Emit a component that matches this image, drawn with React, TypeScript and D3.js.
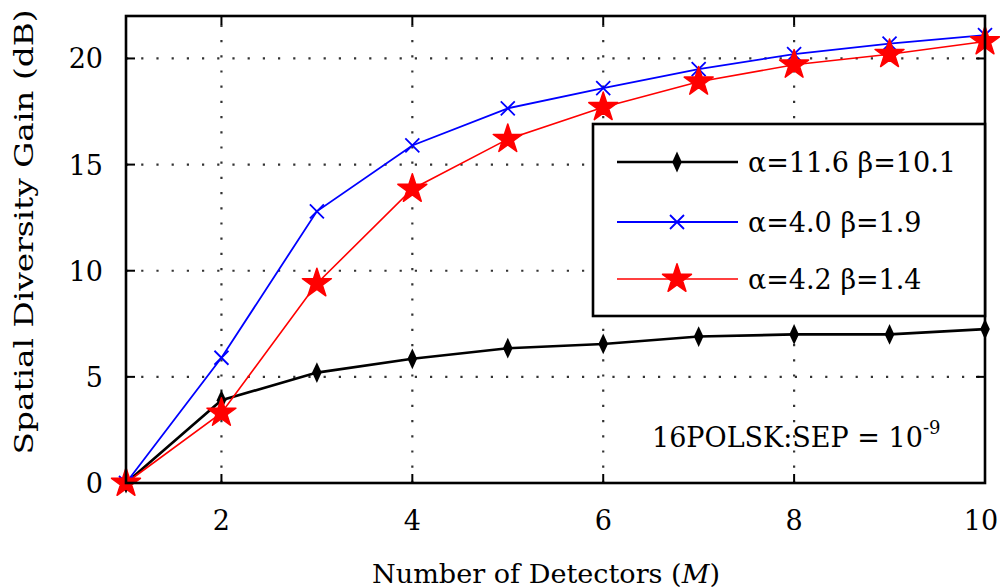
import React, { useEffect, useRef } from 'react';
import * as d3 from 'd3';

// values
const detectors = [1, 2, 3, 4, 5, 6, 7, 8, 9, 10];
const gainA = [0, 3.9, 5.2, 5.85, 6.35, 6.55, 6.9, 7.0, 7.0, 7.25];
const gainB = [0, 5.9, 12.8, 15.9, 17.65, 18.6, 19.5, 20.2, 20.7, 21.1];
const gainC = [0, 3.3, 9.4, 13.85, 16.2, 17.7, 18.9, 19.7, 20.2, 20.8];
const xTicks = [2, 4, 6, 8, 10];
const yTicks = [0, 5, 10, 15, 20];
const legendLabels = ['α=11.6 β=10.1', 'α=4.0 β=1.9', 'α=4.2 β=1.4'];

const W = 1000;
const H = 588;
const margin = { top: 16, right: 15, bottom: 105, left: 126 };
const SERIF = '"DejaVu Serif", "Liberation Serif", serif';

export default function App() {
  const ref = useRef<SVGSVGElement>(null);

  useEffect(() => {
    const svg = d3.select(ref.current);
    svg.selectAll('*').remove();

    const x = d3.scaleLinear().domain([1, 10]).range([margin.left, W - margin.right]);
    const y = d3.scaleLinear().domain([0, 22]).range([H - margin.bottom, margin.top]);
    const [x0, x1] = x.range();
    const [y0, y1] = y.range();

    svg.append('rect').attr('width', W).attr('height', H).attr('fill', '#fff');

    // dotted grid
    const grid = svg.append('g').attr('stroke', '#333').attr('stroke-width', 2.2)
      .attr('stroke-dasharray', '2.2 13').attr('stroke-linecap', 'butt');
    grid.selectAll('.gx').data(xTicks.filter(t => t < 10)).enter().append('line')
      .attr('x1', d => x(d)).attr('x2', d => x(d)).attr('y1', y0).attr('y2', y1);
    grid.selectAll('.gy').data(yTicks.filter(t => t > 0)).enter().append('line')
      .attr('x1', x0).attr('x2', x1).attr('y1', d => y(d)).attr('y2', d => y(d));

    // inward ticks on all sides
    const ticks = svg.append('g').attr('stroke', '#000').attr('stroke-width', 2);
    const tl = 9;
    xTicks.forEach(t => {
      ticks.append('line').attr('x1', x(t)).attr('x2', x(t)).attr('y1', y0).attr('y2', y0 - tl);
      ticks.append('line').attr('x1', x(t)).attr('x2', x(t)).attr('y1', y1).attr('y2', y1 + tl);
    });
    yTicks.forEach(t => {
      ticks.append('line').attr('x1', x0).attr('x2', x0 + tl).attr('y1', y(t)).attr('y2', y(t));
      ticks.append('line').attr('x1', x1).attr('x2', x1 - tl).attr('y1', y(t)).attr('y2', y(t));
    });

    // series
    const series = [
      { values: gainA, color: '#000', width: 2.6, marker: 'diamond' },
      { values: gainB, color: '#0000ff', width: 1.8, marker: 'x' },
      { values: gainC, color: '#ff0000', width: 1.6, marker: 'star' },
    ];
    const line = d3.line<number>().x((_, i) => x(detectors[i])).y(d => y(d));

    const drawMarker = (g: any, kind: string, color: string, cx: number, cy: number) => {
      if (kind === 'diamond') {
        g.append('path').attr('d', d3.symbol(d3.symbolDiamond, 80)())
          .attr('transform', `translate(${cx},${cy}) scale(1,1.25)`).attr('fill', color);
      } else if (kind === 'x') {
        const s = 7;
        g.append('path').attr('d', `M${cx - s},${cy - s}L${cx + s},${cy + s}M${cx - s},${cy + s}L${cx + s},${cy - s}`)
          .attr('stroke', color).attr('stroke-width', 1.8).attr('fill', 'none');
      } else {
        g.append('path').attr('d', d3.symbol(d3.symbolStar, 260)())
          .attr('transform', `translate(${cx},${cy})`).attr('fill', color)
          .attr('stroke', color).attr('stroke-width', 1.5).attr('stroke-linejoin', 'round');
      }
    };

    series.forEach(s => {
      svg.append('path').datum(s.values).attr('d', line).attr('fill', 'none')
        .attr('stroke', s.color).attr('stroke-width', s.width);
    });
    series.forEach(s => {
      const g = svg.append('g');
      s.values.forEach((v, i) => drawMarker(g, s.marker, s.color, x(detectors[i]), y(v)));
    });

    // frame
    svg.append('rect').attr('x', x0).attr('y', y1).attr('width', x1 - x0).attr('height', y0 - y1)
      .attr('fill', 'none').attr('stroke', '#000').attr('stroke-width', 2.6);

    // tick labels (the last one pulled in a little so it stays on the page)
    svg.append('g').selectAll('text').data(xTicks).enter().append('text')
      .attr('x', d => Math.min(x(d), W - 19)).attr('y', y0 + 47).attr('text-anchor', 'middle')
      .attr('font-family', SERIF).attr('font-size', 27).text(d => d);
    svg.append('g').selectAll('text').data(yTicks).enter().append('text')
      .attr('x', x0 - 23).attr('y', d => y(d) + 10).attr('text-anchor', 'end')
      .attr('font-family', SERIF).attr('font-size', 27).text(d => d);

    // axis titles
    svg.append('text').attr('x', 546).attr('y', 583).attr('text-anchor', 'middle')
      .attr('font-family', SERIF).attr('font-size', 26)
      .attr('textLength', 348).attr('lengthAdjust', 'spacingAndGlyphs')
      .html('Number of Detectors (<tspan font-style="italic">M</tspan>)');
    svg.append('text').attr('transform', 'translate(33,232) rotate(-90)').attr('text-anchor', 'middle')
      .attr('font-family', SERIF).attr('font-size', 26)
      .attr('textLength', 445).attr('lengthAdjust', 'spacingAndGlyphs')
      .text('Spatial Diversity Gain (dB)');

    // legend
    const lg = svg.append('g');
    lg.append('rect').attr('x', 593).attr('y', 124).attr('width', x1 - 593).attr('height', 192)
      .attr('fill', '#fff').attr('stroke', '#000').attr('stroke-width', 2.6);
    const rowY = [162, 222, 279];
    series.forEach((s, i) => {
      lg.append('line').attr('x1', 617).attr('x2', 738).attr('y1', rowY[i]).attr('y2', rowY[i])
        .attr('stroke', s.color).attr('stroke-width', s.width);
      drawMarker(lg, s.marker, s.color, 677, rowY[i]);
      lg.append('text').attr('x', 748).attr('y', rowY[i] + 10)
        .attr('font-family', SERIF).attr('font-size', 27).text(legendLabels[i]);
    });

    // annotation
    svg.append('text').attr('x', 652).attr('y', 447).attr('font-family', SERIF).attr('font-size', 27)
      .html('16POLSK:SEP = 10<tspan font-size="18" dy="-13">-9</tspan>');
  }, []);

  return (
    <svg ref={ref} width={W} height={H}
      style={{ position: 'absolute', left: 0, top: 0, display: 'block' }} />
  );
}
